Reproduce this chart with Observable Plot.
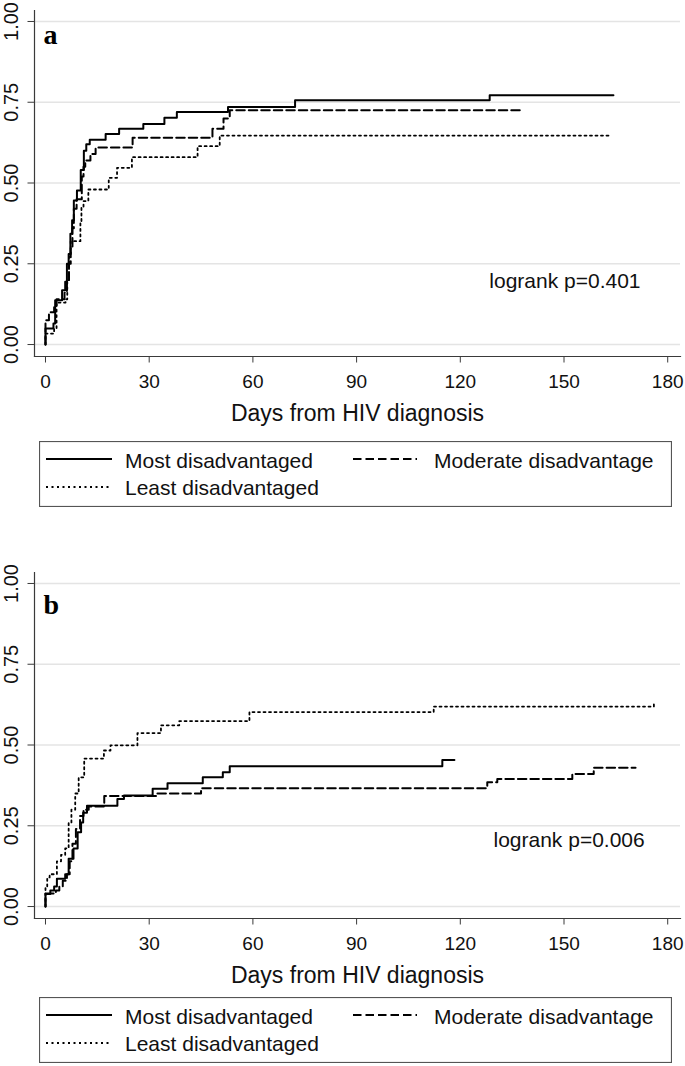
<!DOCTYPE html>
<html>
<head>
<meta charset="utf-8">
<script src="https://cdn.jsdelivr.net/npm/d3@7"></script>
<script src="https://cdn.jsdelivr.net/npm/@observablehq/plot@0.6"></script>
<style>
  html, body { margin: 0; padding: 0; background: #fff; }
  #page { position: relative; width: 685px; height: 1066px; background: #fff; overflow: hidden; }
  .abs { position: absolute; left: 0; }
</style>
</head>
<body>
<div id="page"></div>
<script>
// ---------- data (days from HIV diagnosis, cumulative proportion) ----------
const xTicks = [0, 30, 60, 90, 120, 150, 180];
const yTicks = [0, 0.25, 0.5, 0.75, 1];
const seriesNames = ["Most disadvantaged", "Moderate disadvantage", "Least disadvantaged"];
const xTitle = "Days from HIV diagnosis";

// Panel a
const mostA = [[0,0],[0,0.05],[2.3,0.065],[2.8,0.137],[4.8,0.168],[5.7,0.194],[6.2,0.25],[6.7,0.28],[7.2,0.343],[7.7,0.385],[8.2,0.446],[9.1,0.477],[10.2,0.54],[11.1,0.60],[11.8,0.62],[12.8,0.634],[17.4,0.652],[21.3,0.668],[28.3,0.683],[34.4,0.702],[38,0.72],[52.8,0.735],[72.2,0.756],[128.5,0.772],[164.3,0.772]];
const moderateA = [[0,0],[0,0.075],[1,0.1],[2.5,0.12],[3.2,0.14],[5.5,0.16],[6.2,0.2],[6.8,0.25],[7.3,0.3],[7.8,0.36],[8.2,0.42],[9,0.45],[10.5,0.52],[11,0.55],[11.5,0.57],[13,0.59],[14.5,0.61],[25.2,0.64],[48.3,0.668],[51.5,0.70],[53.3,0.725],[138,0.725]];
const leastA = [[0,0],[0,0.034],[2.5,0.05],[3.2,0.13],[5.8,0.14],[6.3,0.2],[6.8,0.28],[7.3,0.32],[10.1,0.38],[10.4,0.424],[11,0.444],[12.4,0.48],[18.3,0.516],[20.7,0.547],[25,0.58],[44,0.614],[50.4,0.647],[163,0.647]];
const logrankA = {day: 128.4, value: 0.176, label: "logrank p=0.401"};

// Panel b
const mostB = [[0,0],[0,0.039],[1.4,0.05],[2.5,0.062],[3.3,0.086],[5.7,0.10],[6.7,0.148],[8.1,0.18],[9.3,0.23],[10.3,0.26],[10.9,0.29],[12,0.312],[20.8,0.333],[22.7,0.344],[31,0.365],[35.3,0.382],[45.5,0.40],[51.3,0.416],[53.3,0.434],[114.8,0.454],[118.3,0.454]];
const moderateB = [[0,0],[0,0.04],[3,0.05],[4,0.062],[5,0.08],[6.2,0.10],[7,0.14],[7.8,0.194],[8.8,0.24],[10,0.28],[11,0.30],[12.5,0.31],[17,0.342],[32,0.35],[45,0.366],[127.8,0.385],[130.7,0.395],[152.4,0.41],[158.6,0.43],[170.7,0.43]];
const leastB = [[0,0],[0,0.06],[0.5,0.09],[1.2,0.10],[3.3,0.14],[4.5,0.16],[5.7,0.18],[6.7,0.26],[7.5,0.30],[8.6,0.35],[9.6,0.40],[11.2,0.458],[16.9,0.483],[18.8,0.499],[26.6,0.537],[33.4,0.561],[38.7,0.574],[59,0.602],[112.3,0.619],[176,0.627],[176.5,0.627]];
const logrankB = {day: 129.6, value: 0.184, label: "logrank p=0.006"};

// ---------- styles ----------
const SANS = "'Liberation Sans', Arial, sans-serif";
const SERIF = "'Liberation Serif', 'Times New Roman', serif";
const styles = [
  {stroke: "#000", strokeWidth: 2, dash: null},
  {stroke: "#000", strokeWidth: 2, dash: "8.5,4"},
  {stroke: "#000", strokeWidth: 1.8, dash: "2,3.5"}
];

function panel(series, logrank, letter, letterDy) {
  const marks = [
    Plot.gridY(yTicks, {stroke: "#e4e4e4", strokeOpacity: 1, strokeWidth: 1.6}),
    Plot.frame({anchor: "left", stroke: "#3a3a3a", strokeWidth: 1.2}),
    Plot.frame({anchor: "bottom", stroke: "#3a3a3a", strokeWidth: 1.2}),
    Plot.axisX(xTicks, {tickSize: 6.5, tickPadding: 11, fontSize: 19, label: null, stroke: "#3a3a3a"}),
    Plot.axisY(yTicks, {tickSize: 6.5, tickFormat: () => "", label: null, stroke: "#3a3a3a"}),
    Plot.text(yTicks, {y: d => d, text: d => d.toFixed(2), frameAnchor: "left", dx: -23, rotate: -90,
      fontSize: 20, textAnchor: "middle", lineAnchor: "middle", fill: "#111", ariaLabel: "ylab"}),
    Plot.text([xTitle], {text: d => d, frameAnchor: "bottom", dy: 64, lineAnchor: "bottom", fontSize: 23, fill: "#111"}),
    Plot.text([logrank], {x: "day", y: "value", text: "label", textAnchor: "start", lineAnchor: "bottom", fontSize: 21, fill: "#111"}),
    Plot.text([letter], {text: d => d, frameAnchor: "top-left", dx: 9, dy: letterDy, lineAnchor: "bottom",
      textAnchor: "start", fontFamily: SERIF, fontWeight: "bold", fontSize: 28, fill: "#000"})
  ];
  series.forEach((s, i) => {
    const st = styles[i];
    marks.push(Plot.line(s, {x: d => d[0], y: d => d[1], curve: "step-after", stroke: st.stroke,
      strokeWidth: st.strokeWidth, strokeDasharray: st.dash}));
  });
  const svg = Plot.plot({
    width: 685, height: 430,
    marginLeft: 34, marginRight: 5, marginTop: 10, marginBottom: 74,
    x: {domain: [-3.18, 183.7]},
    y: {domain: [-0.037, 1.034]},
    style: {fontFamily: SANS, background: "transparent", color: "#111", overflow: "visible"},
    marks
  });
  svg.querySelectorAll('g[aria-label="ylab"] text').forEach(t => {
    const tr = t.getAttribute("transform") || "";
    t.setAttribute("transform", tr + " scale(0.85,1)");
  });
  return svg;
}

function legend(top) {
  const div = d3.create("div").attr("class", "abs").style("top", top + "px").style("left", "39px");
  const svg = div.append("svg").attr("width", 633).attr("height", 66)
    .style("display", "block").style("font-family", SANS);
  svg.append("rect").attr("x", 0.5).attr("y", 0.5).attr("width", 632).attr("height", 65)
    .attr("fill", "#fff").attr("stroke", "#555").attr("stroke-width", 1.2);
  const items = [
    {x1: 7, x2: 73, tx: 86, ly: 18, ty: 27},
    {x1: 314, x2: 378, tx: 395, ly: 18, ty: 27},
    {x1: 7, x2: 73, tx: 86, ly: 46, ty: 54}
  ];
  items.forEach((it, i) => {
    const st = styles[i];
    svg.append("line").attr("x1", it.x1).attr("x2", it.x2).attr("y1", it.ly).attr("y2", it.ly)
      .attr("stroke", st.stroke).attr("stroke-width", st.strokeWidth)
      .attr("stroke-dasharray", st.dash);
    svg.append("text").attr("x", it.tx).attr("y", it.ty).attr("font-size", 21).attr("fill", "#111")
      .text(seriesNames[i]);
  });
  return div.node();
}

const page = document.getElementById("page");
const pa = document.createElement("div"); pa.className = "abs"; pa.style.top = "0px";
pa.appendChild(panel([mostA, moderateA, leastA], logrankA, "a", 33));
page.appendChild(pa);
page.appendChild(legend(441));
const pb = document.createElement("div"); pb.className = "abs"; pb.style.top = "562px";
pb.appendChild(panel([mostB, moderateB, leastB], logrankB, "b", 41));
page.appendChild(pb);
page.appendChild(legend(997));
</script>
</body>
</html>
